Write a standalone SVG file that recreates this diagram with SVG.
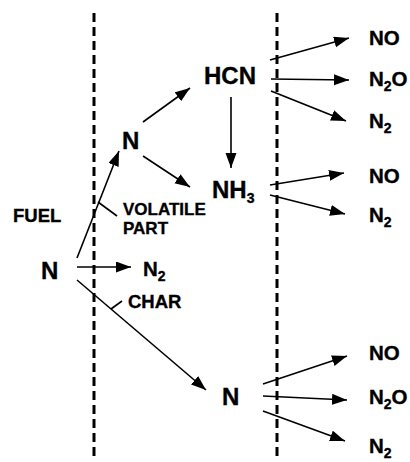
<svg xmlns="http://www.w3.org/2000/svg" width="410" height="462" viewBox="0 0 410 462">
<defs>
<marker id="ah" markerUnits="userSpaceOnUse" markerWidth="16" markerHeight="12" refX="15" refY="5.5" orient="auto">
<path d="M0,0 L15,5.5 L0,11 z" fill="#000"/>
</marker>
<style>
text{font-family:"Liberation Sans",Arial,sans-serif;font-weight:bold;fill:#000;stroke:#000;stroke-width:0.35}
.big{font-size:24px}
.mid{font-size:20.5px}
.sm{font-size:18.5px}
.vs{font-size:17px}
.sub{font-size:14px}
.c{stroke:#000;stroke-width:1.6;fill:none}
.a{marker-end:url(#ah)}
.d{stroke:#000;stroke-width:3;stroke-dasharray:9,5;fill:none}
</style>
</defs>
<g id="boundaries">
<line class="d" x1="94" y1="13" x2="94" y2="456"/>
<line class="d" x1="277" y1="13" x2="277" y2="456"/>
</g>
<g id="connectors">
<line class="c a" x1="77" y1="258" x2="119" y2="151"/>
<line class="c" x1="98" y1="202" x2="117" y2="216"/>
<line class="c a" x1="77" y1="267" x2="131" y2="267"/>
<line class="c a" x1="77" y1="280" x2="206" y2="390"/>
<line class="c" x1="111" y1="309" x2="122" y2="301"/>
<line class="c a" x1="143" y1="122" x2="190" y2="88"/>
<line class="c a" x1="143" y1="156" x2="190" y2="187"/>
<line class="c a" x1="231" y1="97" x2="231" y2="168"/>
<line class="c a" x1="270" y1="60" x2="349" y2="38"/>
<line class="c a" x1="271" y1="79" x2="349" y2="80"/>
<line class="c a" x1="271" y1="91" x2="346" y2="121"/>
<line class="c a" x1="270" y1="185" x2="344" y2="173"/>
<line class="c a" x1="270" y1="195" x2="345" y2="214"/>
<line class="c a" x1="263" y1="384" x2="347" y2="356"/>
<line class="c a" x1="263" y1="396" x2="347" y2="400"/>
<line class="c a" x1="263" y1="411" x2="345" y2="441"/>
</g>
<g id="fuel"><text class="sm" x="13" y="222">FUEL</text></g>
<g id="fuelN"><text class="big" x="41" y="279">N</text></g>
<g id="volatileN"><text class="big" x="122" y="149">N</text></g>
<g id="volatileLabel"><text class="vs" x="123" y="215">VOLATILE</text><text class="vs" x="123" y="234">PART</text></g>
<g id="midN2"><text class="mid" x="143" y="276">N<tspan class="sub" dy="5">2</tspan></text></g>
<g id="charLabel"><text class="sm" x="128" y="308">CHAR</text></g>
<g id="hcn"><text class="big" x="204" y="84">HCN</text></g>
<g id="nh3"><text class="big" x="212" y="198">NH<tspan class="sub" dy="5">3</tspan></text></g>
<g id="charN"><text class="big" x="222" y="405">N</text></g>
<g id="no1"><text class="mid" x="369" y="45">NO</text></g>
<g id="n2o1"><text class="mid" x="369" y="86">N<tspan class="sub" dy="5">2</tspan><tspan dy="-5">O</tspan></text></g>
<g id="n21"><text class="mid" x="369" y="128">N<tspan class="sub" dy="5">2</tspan></text></g>
<g id="no2"><text class="mid" x="369" y="183">NO</text></g>
<g id="n22"><text class="mid" x="369" y="222">N<tspan class="sub" dy="5">2</tspan></text></g>
<g id="no3"><text class="mid" x="369" y="360">NO</text></g>
<g id="n2o3"><text class="mid" x="369" y="404">N<tspan class="sub" dy="5">2</tspan><tspan dy="-5">O</tspan></text></g>
<g id="n23"><text class="mid" x="369" y="453">N<tspan class="sub" dy="5">2</tspan></text></g>
</svg>
